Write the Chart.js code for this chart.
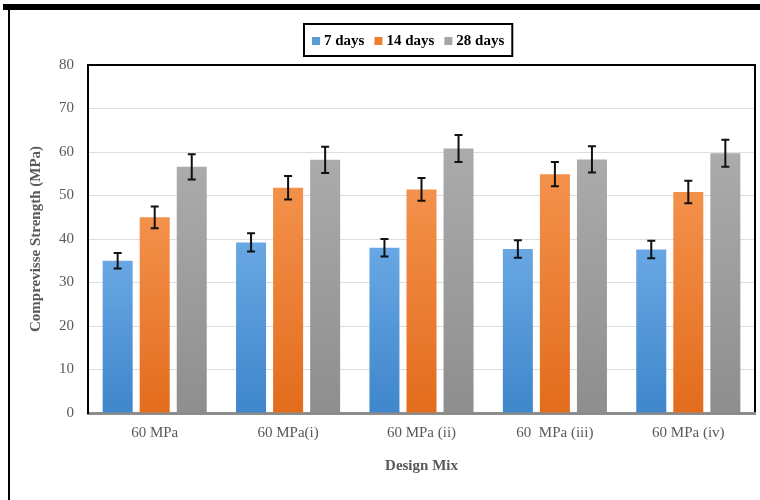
<!DOCTYPE html>
<html>
<head>
<meta charset="utf-8">
<script src="https://cdn.jsdelivr.net/npm/chart.js@4/dist/chart.umd.min.js"></script>
<style>
  html, body { margin: 0; padding: 0; background: #fff; }
  #wrap { width: 760px; height: 500px; position: relative; }
</style>
</head>
<body>
<div id="wrap"><canvas id="c" width="760" height="500"></canvas></div>
<script>
// Mix designs and compressive strength results (MPa)
const categories = ['60 MPa', '60 MPa(i)', '60 MPa (ii)', '60  MPa (iii)', '60 MPa (iv)'];
const seriesLabels = ['7 days', '14 days', '28 days'];
const days7  = [35.0, 39.2, 38.0, 37.7, 37.6];
const days14 = [45.0, 51.8, 51.4, 54.9, 50.8];
const days28 = [56.6, 58.2, 60.8, 58.3, 59.7];
// Standard deviation shown as error bars
const err7  = [1.8, 2.1, 2.0, 2.0, 2.0];
const err14 = [2.5, 2.7, 2.6, 2.8, 2.6];
const err28 = [2.9, 3.0, 3.1, 3.0, 3.1];
const yTicks = [0, 10, 20, 30, 40, 50, 60, 70, 80];

const SERIF = '"Liberation Serif", "Times New Roman", serif';
const TEXT_GREY = '#595959';

// Vertical gradient per bar: lighter at the top, darker at the base
function barGradient(topColor, bottomColor) {
  return (ctx) => {
    const chart = ctx.chart;
    const y = chart.scales && chart.scales.y;
    if (!y || ctx.type !== 'data') return bottomColor;
    const y0 = y.getPixelForValue(0);
    const y1 = y.getPixelForValue(ctx.raw);
    if (!isFinite(y0) || !isFinite(y1) || y0 === y1) return bottomColor;
    const g = chart.ctx.createLinearGradient(0, y1, 0, y0);
    g.addColorStop(0, topColor);
    g.addColorStop(1, bottomColor);
    return g;
  };
}

const palette = [
  { top: '#68a7e3', bottom: '#3f86cb', key: '#5b9bd5' },
  { top: '#f3914b', bottom: '#e36c1d', key: '#ed7d31' },
  { top: '#ababab', bottom: '#8e8e8e', key: '#a5a5a5' }
];
const values = [days7, days14, days28];
const errors = [err7, err14, err28];

// Outer frame: heavy rule along the top and a thin rule on the left
const framePlugin = {
  id: 'frame',
  beforeDraw(chart) {
    const c = chart.ctx;
    c.save();
    c.fillStyle = '#000';
    c.fillRect(3, 4, 757, 6);
    c.fillRect(8, 10, 2, 490);
    c.restore();
  }
};

// Black border on top and right edges of the plot area
const plotBorderPlugin = {
  id: 'plotBorder',
  afterDraw(chart) {
    const { left, right, top, bottom } = chart.chartArea;
    const c = chart.ctx;
    c.save();
    c.strokeStyle = '#000';
    c.lineWidth = 2;
    c.beginPath();
    c.moveTo(left - 1, top);
    c.lineTo(right, top);
    c.lineTo(right, bottom - 1);
    c.stroke();
    c.restore();
  }
};

// Error bars with small caps
const errorBarPlugin = {
  id: 'errorBars',
  afterDatasetsDraw(chart) {
    const c = chart.ctx;
    const y = chart.scales.y;
    c.save();
    c.strokeStyle = '#111';
    c.lineWidth = 2;
    chart.data.datasets.forEach((ds, i) => {
      const meta = chart.getDatasetMeta(i);
      meta.data.forEach((bar, j) => {
        const v = ds.data[j];
        const e = errors[i][j];
        const yHi = y.getPixelForValue(v + e);
        const yLo = y.getPixelForValue(v - e);
        const x = bar.x;
        c.beginPath();
        c.moveTo(x, yHi); c.lineTo(x, yLo);
        c.moveTo(x - 4, yHi); c.lineTo(x + 4, yHi);
        c.moveTo(x - 4, yLo); c.lineTo(x + 4, yLo);
        c.stroke();
      });
    });
    c.restore();
  }
};

// Boxed legend above the plot
const boxedLegendPlugin = {
  id: 'boxedLegend',
  afterDraw(chart) {
    const c = chart.ctx;
    const cx = 408, cy = 40;
    const sq = 8, gapText = 4, gapItem = 10, padX = 8;
    c.save();
    c.font = 'bold 15px ' + SERIF;
    c.textBaseline = 'middle';
    const items = chart.data.datasets.map((ds, i) => ({
      label: ds.label, color: palette[i].key, w: c.measureText(ds.label).width
    }));
    let total = 0;
    items.forEach((it, i) => { total += sq + gapText + it.w + (i ? gapItem : 0); });
    const boxW = total + padX * 2;
    const boxH = 32;
    const bx = Math.round(cx - boxW / 2), by = cy - boxH / 2;
    c.strokeStyle = '#000';
    c.lineWidth = 2;
    c.strokeRect(bx, by, boxW, boxH);
    let x = bx + padX;
    items.forEach((it, i) => {
      if (i) x += gapItem;
      c.fillStyle = it.color;
      c.fillRect(x, cy - sq / 2 + 1, sq, sq);
      x += sq + gapText;
      c.fillStyle = '#000';
      c.fillText(it.label, x, cy + 1);
      x += it.w;
    });
    c.restore();
  }
};

new Chart(document.getElementById('c'), {
  type: 'bar',
  data: {
    labels: categories,
    datasets: seriesLabels.map((label, i) => ({
      label,
      data: values[i],
      backgroundColor: barGradient(palette[i].top, palette[i].bottom),
      borderWidth: 0,
      categoryPercentage: 0.833,
      barPercentage: 0.81
    }))
  },
  options: {
    responsive: false,
    animation: false,
    devicePixelRatio: 1,
    layout: { padding: { top: 65, right: 5, bottom: 0, left: 0 } },
    plugins: {
      legend: { display: false },
      tooltip: { enabled: false }
    },
    scales: {
      x: {
        grid: { display: false, drawTicks: false },
        border: { display: true, color: '#8c8c8c', width: 3 },
        ticks: {
          color: TEXT_GREY,
          font: { family: SERIF, size: 15 },
          padding: 11,
          maxRotation: 0,
          autoSkip: false
        },
        title: {
          display: true,
          text: 'Design Mix',
          color: TEXT_GREY,
          font: { family: SERIF, size: 15, weight: 'bold' },
          padding: { top: 0, bottom: 25 }
        },
        afterFit(scale) { scale.height = 87; }
      },
      y: {
        min: 0,
        max: 80,
        afterBuildTicks(scale) { scale.ticks = yTicks.map(v => ({ value: v })); },
        grid: { color: '#dedede', lineWidth: 1, drawTicks: false },
        border: { display: true, color: '#000', width: 2 },
        ticks: {
          color: TEXT_GREY,
          font: { family: SERIF, size: 15 },
          padding: 14
        },
        title: {
          display: true,
          text: 'Comprevisse Strength (MPa)',
          color: TEXT_GREY,
          font: { family: SERIF, size: 15, weight: 'bold' },
          padding: { top: 27, bottom: 0 }
        },
        afterFit(scale) { scale.width = 88; }
      }
    }
  },
  plugins: [framePlugin, plotBorderPlugin, errorBarPlugin, boxedLegendPlugin]
});
</script>
</body>
</html>
